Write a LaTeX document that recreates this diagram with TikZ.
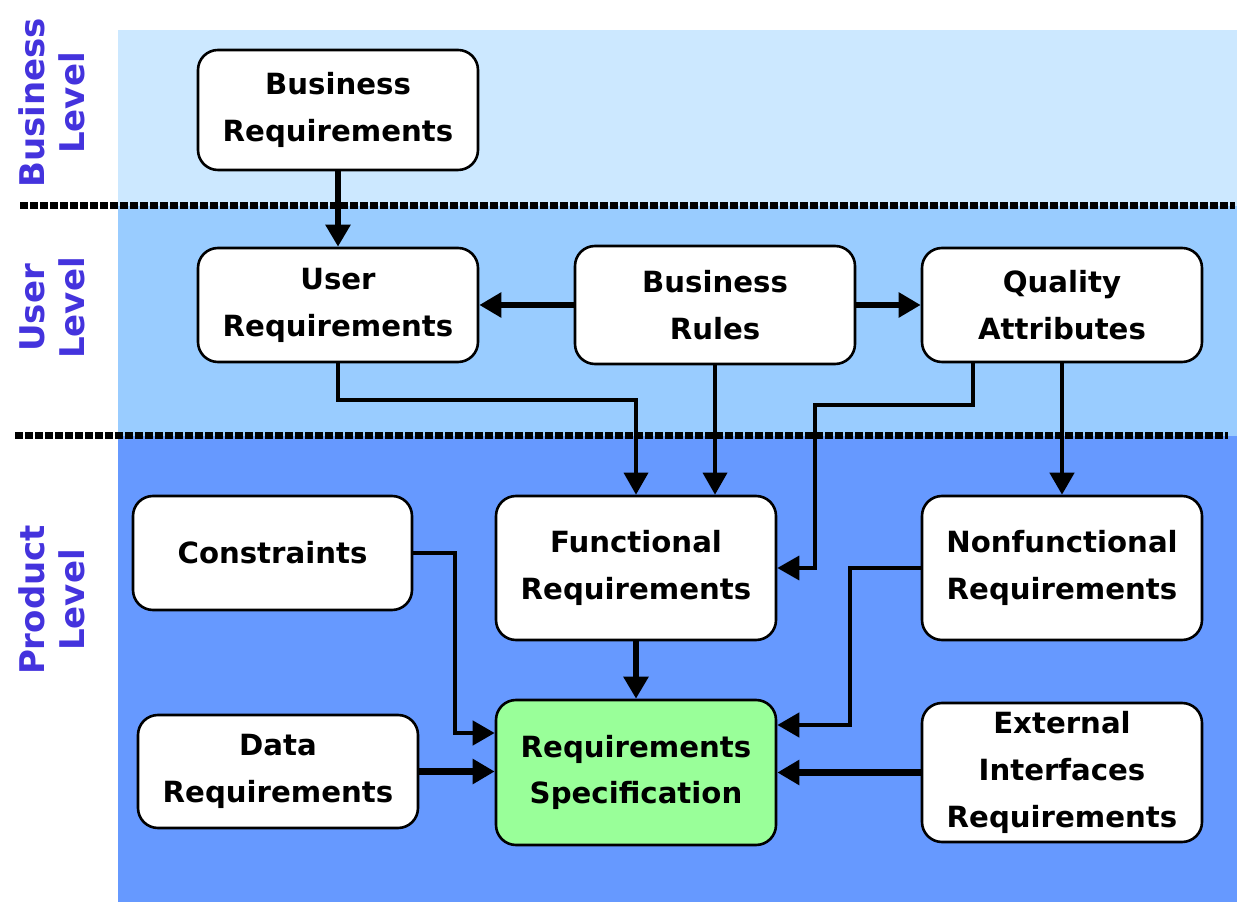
\documentclass[tikz,border=0pt]{standalone}
\usepackage{fontspec}
\setmainfont{DejaVu Sans}
\usetikzlibrary{arrows.meta,calc}
\definecolor{bizbg}{HTML}{CCE8FF}
\definecolor{userbg}{HTML}{99CCFF}
\definecolor{prodbg}{HTML}{6699FF}
\definecolor{specfill}{HTML}{99FF99}
\definecolor{lvltext}{RGB}{68,51,221}
\tikzset{
  box/.style={draw=black, line width=1.3pt, rounded corners=10pt, fill=white,
    minimum width=140pt, align=center, inner sep=2pt,
    font=\fontsize{14.6}{23.4}\selectfont\bfseries},
  lvl/.style={rotate=90, align=center, text=lvltext,
    font=\fontsize{17}{20}\selectfont\bfseries},
  sep/.style={line width=3.5pt, dash pattern=on 4pt off 1pt},
  thick arrow/.style={line width=3.2pt, -{Triangle[length=11pt,width=12pt]}},
  mid arrow/.style={line width=2.2pt, -{Triangle[length=11pt,width=12pt]}},
  thin arrow/.style={line width=1.8pt, -{Triangle[length=11pt,width=12pt]}},
}
\begin{document}
\begin{tikzpicture}[x=0.5pt,y=-0.5pt]
\useasboundingbox (0,0) rectangle (1247,913);
\fill[white] (0,0) rectangle (1247,913);
% background bands
\fill[bizbg] (118,30) rectangle (1237,206);
\fill[userbg] (118,206) rectangle (1237,436);
\fill[prodbg] (118,436) rectangle (1237,902);
% separators
\draw[sep] (20,206) -- (1235,206);
\draw[sep] (15,436) -- (1228,436);
% level labels
\node[lvl] (lb) at (52,103) {Business\\Level};
\node[lvl] (lu) at (52,308) {User\\Level};
\node[lvl] (lp) at (52,600) {Product\\Level};
% nodes
\node[box, minimum height=60pt] (BR) at (338,110) {Business\\Requirements};
\node[box, minimum height=57pt] (UR) at (338,305) {User\\Requirements};
\node[box, minimum height=59pt] (BRu) at (715,305) {Business\\Rules};
\node[box, minimum height=57pt] (QA) at (1062,305) {Quality\\Attributes};
\node[box, minimum height=57pt, minimum width=139.5pt] (Con) at (272.5,553) {Constraints};
\node[box, minimum height=72pt] (FR) at (636,568) {Functional\\Requirements};
\node[box, minimum height=72pt] (NFR) at (1062,568) {Nonfunctional\\Requirements};
\node[box, minimum height=56.5pt] (DR) at (278,771.5) {Data\\Requirements};
\node[box, minimum height=72.5pt, fill=specfill] (RS) at (636,772.5) {Requirements\\Specification};
\node[box, minimum height=69.5pt] (EIR) at (1062,772.5) {External\\Interfaces\\Requirements};
% bend coordinates
\coordinate (b4) at (636,400);
\coordinate (b6) at (815,405);
\coordinate (c9) at (455,733);
\coordinate (c11) at (850,725);
% connectors
\draw[thick arrow] (BR.south) -- (UR.north);
\draw[thick arrow] (BRu.west) -- (UR.east);
\draw[thick arrow] (BRu.east) -- (QA.west);
\draw[thin arrow] (UR.south) |- (b4) -- (FR.north);
\draw[thin arrow] (BRu.south) -- (BRu.south |- FR.north);
\draw[thin arrow] ([xshift=-44.5pt]QA.south) |- (b6) |- (FR.east);
\draw[mid arrow] (QA.south) -- (NFR.north);
\draw[thick arrow] (FR.south) -- (RS.north);
\draw[mid arrow] (Con.east) -| (c9) -- (c9 -| RS.west);
\draw[thick arrow] (DR.east) -- (DR.east -| RS.west);
\draw[mid arrow] (NFR.west) -| (c11) -- (c11 -| RS.east);
\draw[thick arrow] (EIR.west) -- (EIR.west -| RS.east);
\end{tikzpicture}
\end{document}
